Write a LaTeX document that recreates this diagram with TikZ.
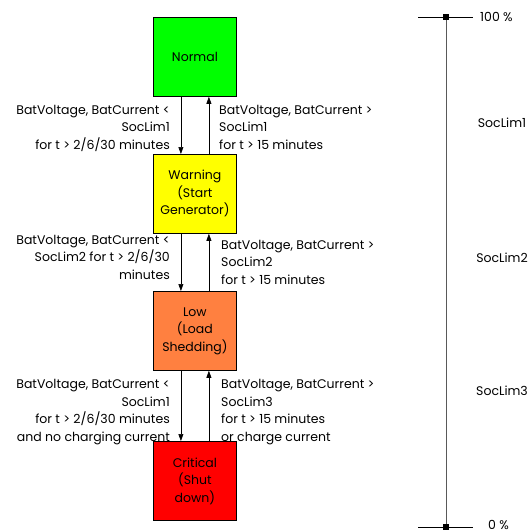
\documentclass[tikz,border=0pt]{standalone}
\usepackage{fontspec}
\setmainfont{Poppins}
\usetikzlibrary{arrows.meta}
\begin{document}
\begin{tikzpicture}[x=1pt,y=-1pt,
  every node/.style={font=\fontsize{12.5}{17.5}\selectfont, inner sep=0pt},
  state/.style={draw=black, line width=0.8pt, minimum width=83pt, minimum height=79pt, align=center, anchor=north west},
  arr/.style={-{Triangle[length=7pt,width=5pt]}, line width=0.6pt},
  lbl/.style={align=right, anchor=base east},
  rlbl/.style={align=left, anchor=base west}]
\useasboundingbox (0,0) rectangle (530,532);
\definecolor{cnormal}{RGB}{0,255,0}
\definecolor{cwarn}{RGB}{255,255,0}
\definecolor{clow}{RGB}{255,128,64}
\definecolor{ccrit}{RGB}{255,0,0}
\node[state, fill=cnormal] (normal) at (153,17) {Normal};
\node[state, fill=cwarn] (warn) at (153,154) {Warning\\(Start\\Generator)};
\node[state, fill=clow] (low) at (153,291) {Low\\(Load\\Shedding)};
\node[state, fill=ccrit] (crit) at (153,441) {Critical\\(Shut\\down)};
% arrows
\draw[arr] ([xshift=-14pt]normal.south) -- ([xshift=-14pt]warn.north);
\draw[arr] ([xshift=14pt]warn.north) -- ([xshift=14pt]normal.south);
\draw[arr] ([xshift=-14pt]warn.south) -- ([xshift=-14pt]low.north);
\draw[arr] ([xshift=14pt]low.north) -- ([xshift=14pt]warn.south);
\draw[arr] ([xshift=-14pt]low.south) -- ([xshift=-14pt]crit.north);
\draw[arr] ([xshift=14pt]crit.north) -- ([xshift=14pt]low.south);
% labels (anchor = baseline of last line)
\node[lbl] (l1) at (170,149) {BatVoltage, BatCurrent <\\SocLim1\\for t > 2/6/30 minutes};
\node[rlbl] (r1) at (219,149) {BatVoltage, BatCurrent >\\SocLim1\\for t > 15 minutes};
\node[lbl] (l2) at (170,279) {BatVoltage, BatCurrent <\\SocLim2 for t > 2/6/30\\minutes};
\node[rlbl] (r2) at (221,284) {BatVoltage, BatCurrent >\\SocLim2\\for t > 15 minutes};
\node[lbl] (l3) at (170,441) {BatVoltage, BatCurrent <\\SocLim1\\for t > 2/6/30 minutes\\and no charging current};
\node[rlbl] (r3) at (221,441) {BatVoltage, BatCurrent >\\SocLim3\\for t > 15 minutes\\or charge current};
% scale
\coordinate (top) at (446,17);
\coordinate (bot) at (446,527);
\draw[gray!70!black, line width=0.8pt] (top) -- (bot);
\draw[line width=0.6pt] (418,17) -- (473,17);
\draw[line width=0.6pt] (418,527) -- (473,527);
\fill (top) +(-3,-3) rectangle +(3,3);
\fill (bot) +(-3,-3) rectangle +(3,3);
\node[anchor=base west] (p100) at (480,22) {100 \%};
\node[anchor=base west] (p0) at (488,529) {0 \%};
\node[anchor=base] (s1) at (502,127) {SocLim1};
\node[anchor=base] (s2) at (502,262) {SocLim2};
\node[anchor=base] (s3) at (502,395) {SocLim3};
\end{tikzpicture}
\end{document}
